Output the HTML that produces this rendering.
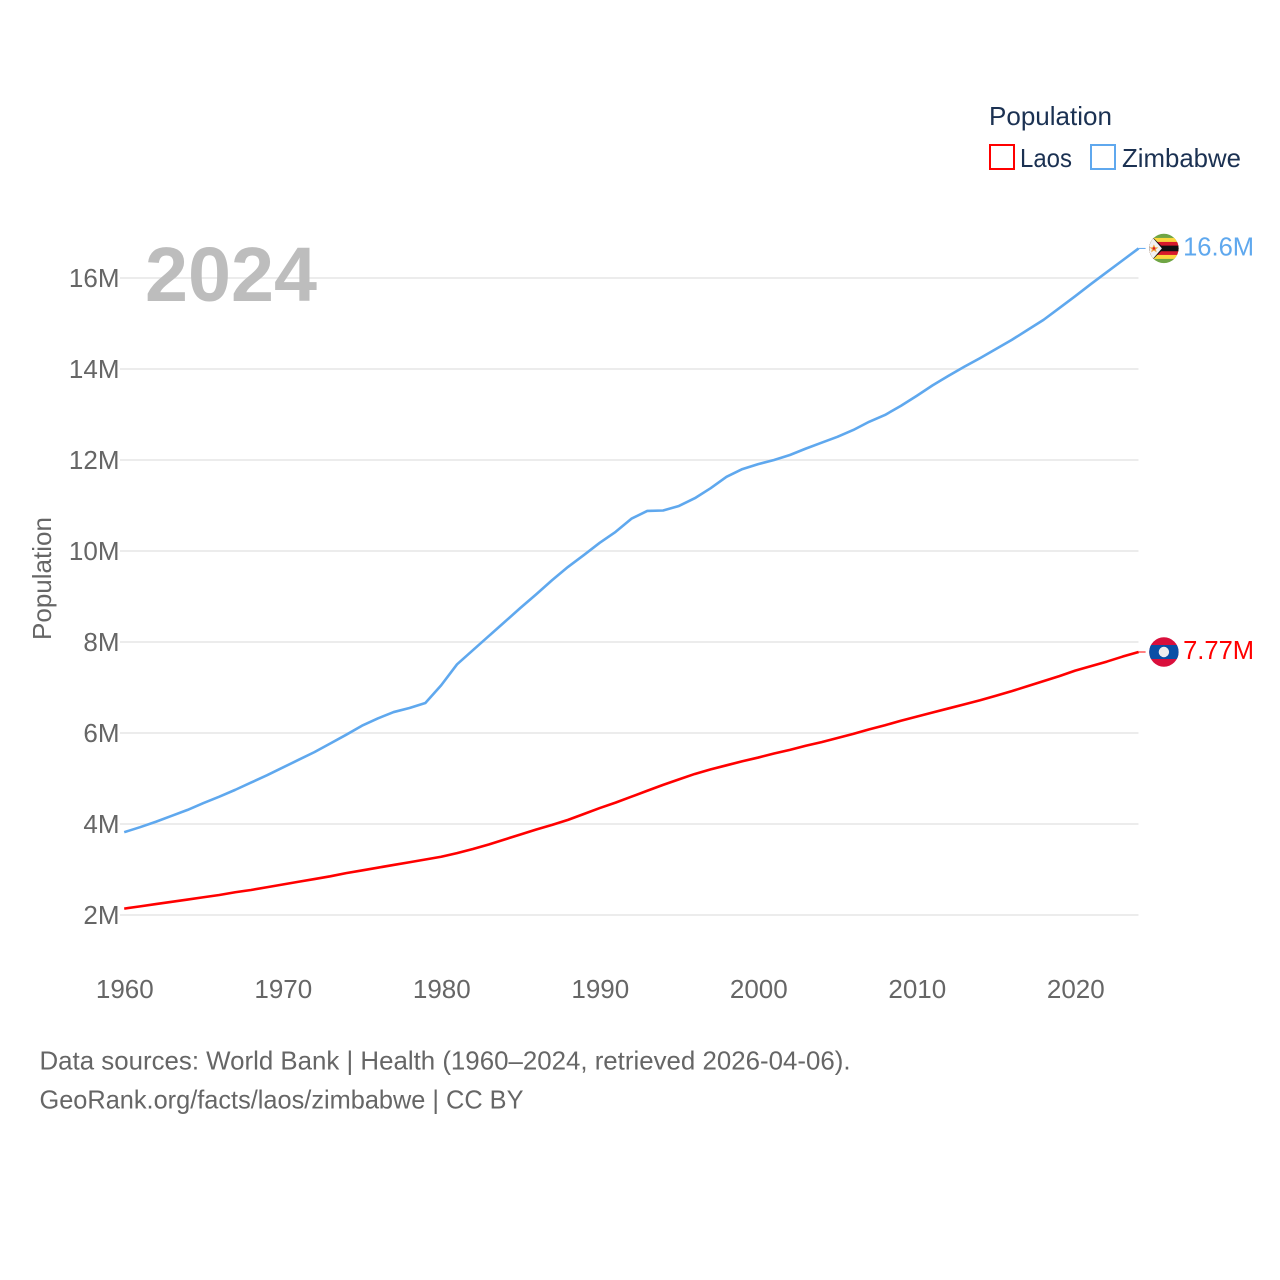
<!DOCTYPE html>
<html lang="en">
<head>
<meta charset="utf-8">
<title>Population: Laos and Zimbabwe</title>
<style>
html,body{margin:0;padding:0;background:#fff;width:1280px;height:1280px;overflow:hidden}
svg{display:block}
text{font-family:"Liberation Sans",sans-serif}
</style>
</head>
<body>
<svg id="chart" width="1280" height="1280" viewBox="0 0 1280 1280" xmlns="http://www.w3.org/2000/svg">
  <defs>
    <clipPath id="flag-clip"><circle cx="0" cy="0" r="14.7"></circle></clipPath>
  </defs>
  <rect x="0" y="0" width="1280" height="1280" fill="#fff"></rect>
  <g id="grid"></g>
  <text x="145" y="301" font-size="77" font-weight="700" fill="#bdbdbd" textLength="172" lengthAdjust="spacingAndGlyphs">2024</text>
  <g id="y-ticks"></g>
  <g id="x-ticks"></g>
  <text transform="translate(51,578.5) rotate(-90)" text-anchor="middle" font-size="26" fill="#666" textLength="123" lengthAdjust="spacingAndGlyphs">Population</text>
  <g id="series"></g>

  <g>
    <text x="989" y="125" font-size="26" fill="#1b3152" textLength="123" lengthAdjust="spacingAndGlyphs">Population</text>
    <g>
      <rect x="990" y="145" width="24" height="24" fill="#fff" stroke="#ff0000" stroke-width="2"></rect>
      <text x="1020" y="167" font-size="26" fill="#1b3152" textLength="52" lengthAdjust="spacingAndGlyphs">Laos</text>
    </g>
    <g>
      <rect x="1091" y="145" width="24" height="24" fill="#fff" stroke="#5fa8ee" stroke-width="2"></rect>
      <text x="1122" y="167" font-size="26" fill="#1b3152" textLength="119" lengthAdjust="spacingAndGlyphs">Zimbabwe</text>
    </g>
  </g>

  <g id="flag-zimbabwe">
    <g clip-path="url(#flag-clip)">
      <rect x="-15" y="-15" width="30" height="30" fill="#6fa544"></rect>
      <rect x="-15" y="-10.5" width="30" height="21" fill="#fcd63d"></rect>
      <rect x="-15" y="-6.5" width="30" height="13" fill="#d8192b"></rect>
      <rect x="-15" y="-2.8" width="30" height="5.6" fill="#111"></rect>
      <polygon points="-15,-15 0,0 -15,15" fill="#111"></polygon>
      <polygon points="-15,-15 -2,0 -15,15" fill="#f1f1f1"></polygon>
      <polygon points="-10,-4 -8.6,-1 -5.6,-1 -8,1 -7.2,4 -10,2.2 -12.8,4 -12,1 -14.4,-1 -11.4,-1" fill="#f2a23c"></polygon>
      <circle cx="-10" cy="0" r="1.3" fill="#d8192b"></circle>
    </g>
  </g>
  <g id="flag-laos">
    <g clip-path="url(#flag-clip)">
      <rect x="-15" y="-15" width="30" height="30" fill="#d90f3c"></rect>
      <rect x="-15" y="-7" width="30" height="14" fill="#0a4fa6"></rect>
      <circle cx="0" cy="0" r="5.2" fill="#eeeeee"></circle>
    </g>
  </g>

  <g>
    <text x="39.5" y="1069.5" font-size="26" fill="#666" textLength="811" lengthAdjust="spacingAndGlyphs">Data sources: World Bank | Health (1960–2024, retrieved 2026-04-06).</text>
    <text x="39.5" y="1108.5" font-size="26" fill="#666" textLength="484" lengthAdjust="spacingAndGlyphs">GeoRank.org/facts/laos/zimbabwe | CC BY</text>
  </g>
</svg>
<script>
const years = [1960,1961,1962,1963,1964,1965,1966,1967,1968,1969,1970,1971,1972,1973,1974,1975,1976,1977,1978,1979,1980,1981,1982,1983,1984,1985,1986,1987,1988,1989,1990,1991,1992,1993,1994,1995,1996,1997,1998,1999,2000,2001,2002,2003,2004,2005,2006,2007,2008,2009,2010,2011,2012,2013,2014,2015,2016,2017,2018,2019,2020,2021,2022,2023,2024];
const laosValues = [2.14,2.19,2.24,2.29,2.34,2.39,2.44,2.50,2.55,2.61,2.67,2.73,2.79,2.85,2.92,2.98,3.04,3.10,3.16,3.22,3.28,3.36,3.45,3.55,3.66,3.77,3.88,3.98,4.09,4.22,4.35,4.47,4.60,4.73,4.86,4.98,5.10,5.20,5.29,5.38,5.46,5.55,5.63,5.72,5.80,5.89,5.98,6.08,6.17,6.27,6.36,6.45,6.54,6.63,6.72,6.82,6.92,7.03,7.14,7.25,7.37,7.47,7.57,7.68,7.78];
const zimbabweValues = [3.82,3.93,4.05,4.18,4.31,4.46,4.60,4.75,4.91,5.07,5.24,5.41,5.58,5.77,5.96,6.16,6.32,6.46,6.55,6.66,7.05,7.51,7.82,8.13,8.44,8.75,9.05,9.36,9.65,9.91,10.18,10.42,10.71,10.88,10.89,10.99,11.16,11.38,11.63,11.80,11.91,12.00,12.11,12.25,12.38,12.51,12.66,12.84,12.99,13.19,13.41,13.64,13.85,14.05,14.24,14.44,14.64,14.86,15.08,15.34,15.60,15.87,16.13,16.39,16.65];
const yTickValues = [2,4,6,8,10,12,14,16];
const yTickLabels = ["2M","4M","6M","8M","10M","12M","14M","16M"];
const xTickValues = [1960,1970,1980,1990,2000,2010,2020];
const xTickLabels = ["1960","1970","1980","1990","2000","2010","2020"];
const laosEndLabel = "7.77M";
const zimbabweEndLabel = "16.6M";

const NS = "http://www.w3.org/2000/svg";
function xScale(year){ return 124.2 + (year - 1960) * 15.85; }
function yScale(v){ return 915 - (v - 2) * 45.5; }
function svgEl(tag, parent){
  const el = document.createElementNS(NS, tag);
  parent.appendChild(el);
  return el;
}
const gridG = document.getElementById("grid");
const yTicksG = document.getElementById("y-ticks");
const xTicksG = document.getElementById("x-ticks");
const seriesG = document.getElementById("series");
const svgRoot = document.getElementById("chart");

yTickValues.forEach(function(v, i){
  const line = svgEl("line", gridG);
  
  
  line.setAttribute("x1", 120);
  line.setAttribute("x2", 1138.5);
  line.setAttribute("y1", yScale(v));
  line.setAttribute("y2", yScale(v));
  line.setAttribute("stroke", "#e6e6e6");
  line.setAttribute("stroke-width", "1.4");
  const t = svgEl("text", yTicksG);
  
  
  t.setAttribute("x", 119.5);
  t.setAttribute("y", yScale(v) + 9);
  t.setAttribute("text-anchor", "end");
  t.setAttribute("font-size", "26");
  t.setAttribute("fill", "#666");
  t.textContent = yTickLabels[i];
});

xTickValues.forEach(function(y, i){
  const t = svgEl("text", xTicksG);
  
  
  t.setAttribute("x", xScale(y) + 0.6);
  t.setAttribute("y", 998);
  t.setAttribute("text-anchor", "middle");
  t.setAttribute("font-size", "26");
  t.setAttribute("fill", "#666");
  t.textContent = xTickLabels[i];
});

function pathFor(values){
  return values.map(function(v, i){
    return (i ? "L" : "M") + xScale(years[i]).toFixed(2) + " " + yScale(v).toFixed(2);
  }).join(" ");
}

const laosLine = svgEl("path", seriesG);


laosLine.setAttribute("d", pathFor(laosValues));
laosLine.setAttribute("fill", "none");
laosLine.setAttribute("stroke", "#ff0000");
laosLine.setAttribute("stroke-width", "2.6");
laosLine.setAttribute("stroke-linejoin", "round");

const zimLine = svgEl("path", seriesG);


zimLine.setAttribute("d", pathFor(zimbabweValues));
zimLine.setAttribute("fill", "none");
zimLine.setAttribute("stroke", "#5fa8ee");
zimLine.setAttribute("stroke-width", "2.6");
zimLine.setAttribute("stroke-linejoin", "round");

const lastYear = years[years.length - 1];
const laosEndY = yScale(laosValues[laosValues.length - 1]);
const zimEndY = yScale(zimbabweValues[zimbabweValues.length - 1]);
const endX = xScale(lastYear);

const laosLeader = svgEl("line", seriesG);


laosLeader.setAttribute("x1", endX);
laosLeader.setAttribute("x2", endX + 7);
laosLeader.setAttribute("y1", laosEndY);
laosLeader.setAttribute("y2", laosEndY);
laosLeader.setAttribute("stroke", "#ff0000");
laosLeader.setAttribute("stroke-width", "1");

const zimLeader = svgEl("line", seriesG);


zimLeader.setAttribute("x1", endX);
zimLeader.setAttribute("x2", endX + 7);
zimLeader.setAttribute("y1", zimEndY);
zimLeader.setAttribute("y2", zimEndY);
zimLeader.setAttribute("stroke", "#5fa8ee");
zimLeader.setAttribute("stroke-width", "1");

document.getElementById("flag-zimbabwe").setAttribute("transform", "translate(" + (endX + 25.3) + "," + zimEndY + ")");
document.getElementById("flag-laos").setAttribute("transform", "translate(" + (endX + 25.3) + "," + laosEndY + ")");

const laosValueText = svgEl("text", svgRoot);


laosValueText.setAttribute("x", endX + 44.5);
laosValueText.setAttribute("y", laosEndY + 7);
laosValueText.setAttribute("font-size", "26");
laosValueText.setAttribute("fill", "#ff0000");
laosValueText.setAttribute("textLength", "71");
laosValueText.setAttribute("lengthAdjust", "spacingAndGlyphs");
laosValueText.textContent = laosEndLabel;

const zimValueText = svgEl("text", svgRoot);


zimValueText.setAttribute("x", endX + 44.5);
zimValueText.setAttribute("y", zimEndY + 7);
zimValueText.setAttribute("font-size", "26");
zimValueText.setAttribute("fill", "#5fa8ee");
zimValueText.setAttribute("textLength", "71");
zimValueText.setAttribute("lengthAdjust", "spacingAndGlyphs");
zimValueText.textContent = zimbabweEndLabel;
</script>
</body>
</html>
